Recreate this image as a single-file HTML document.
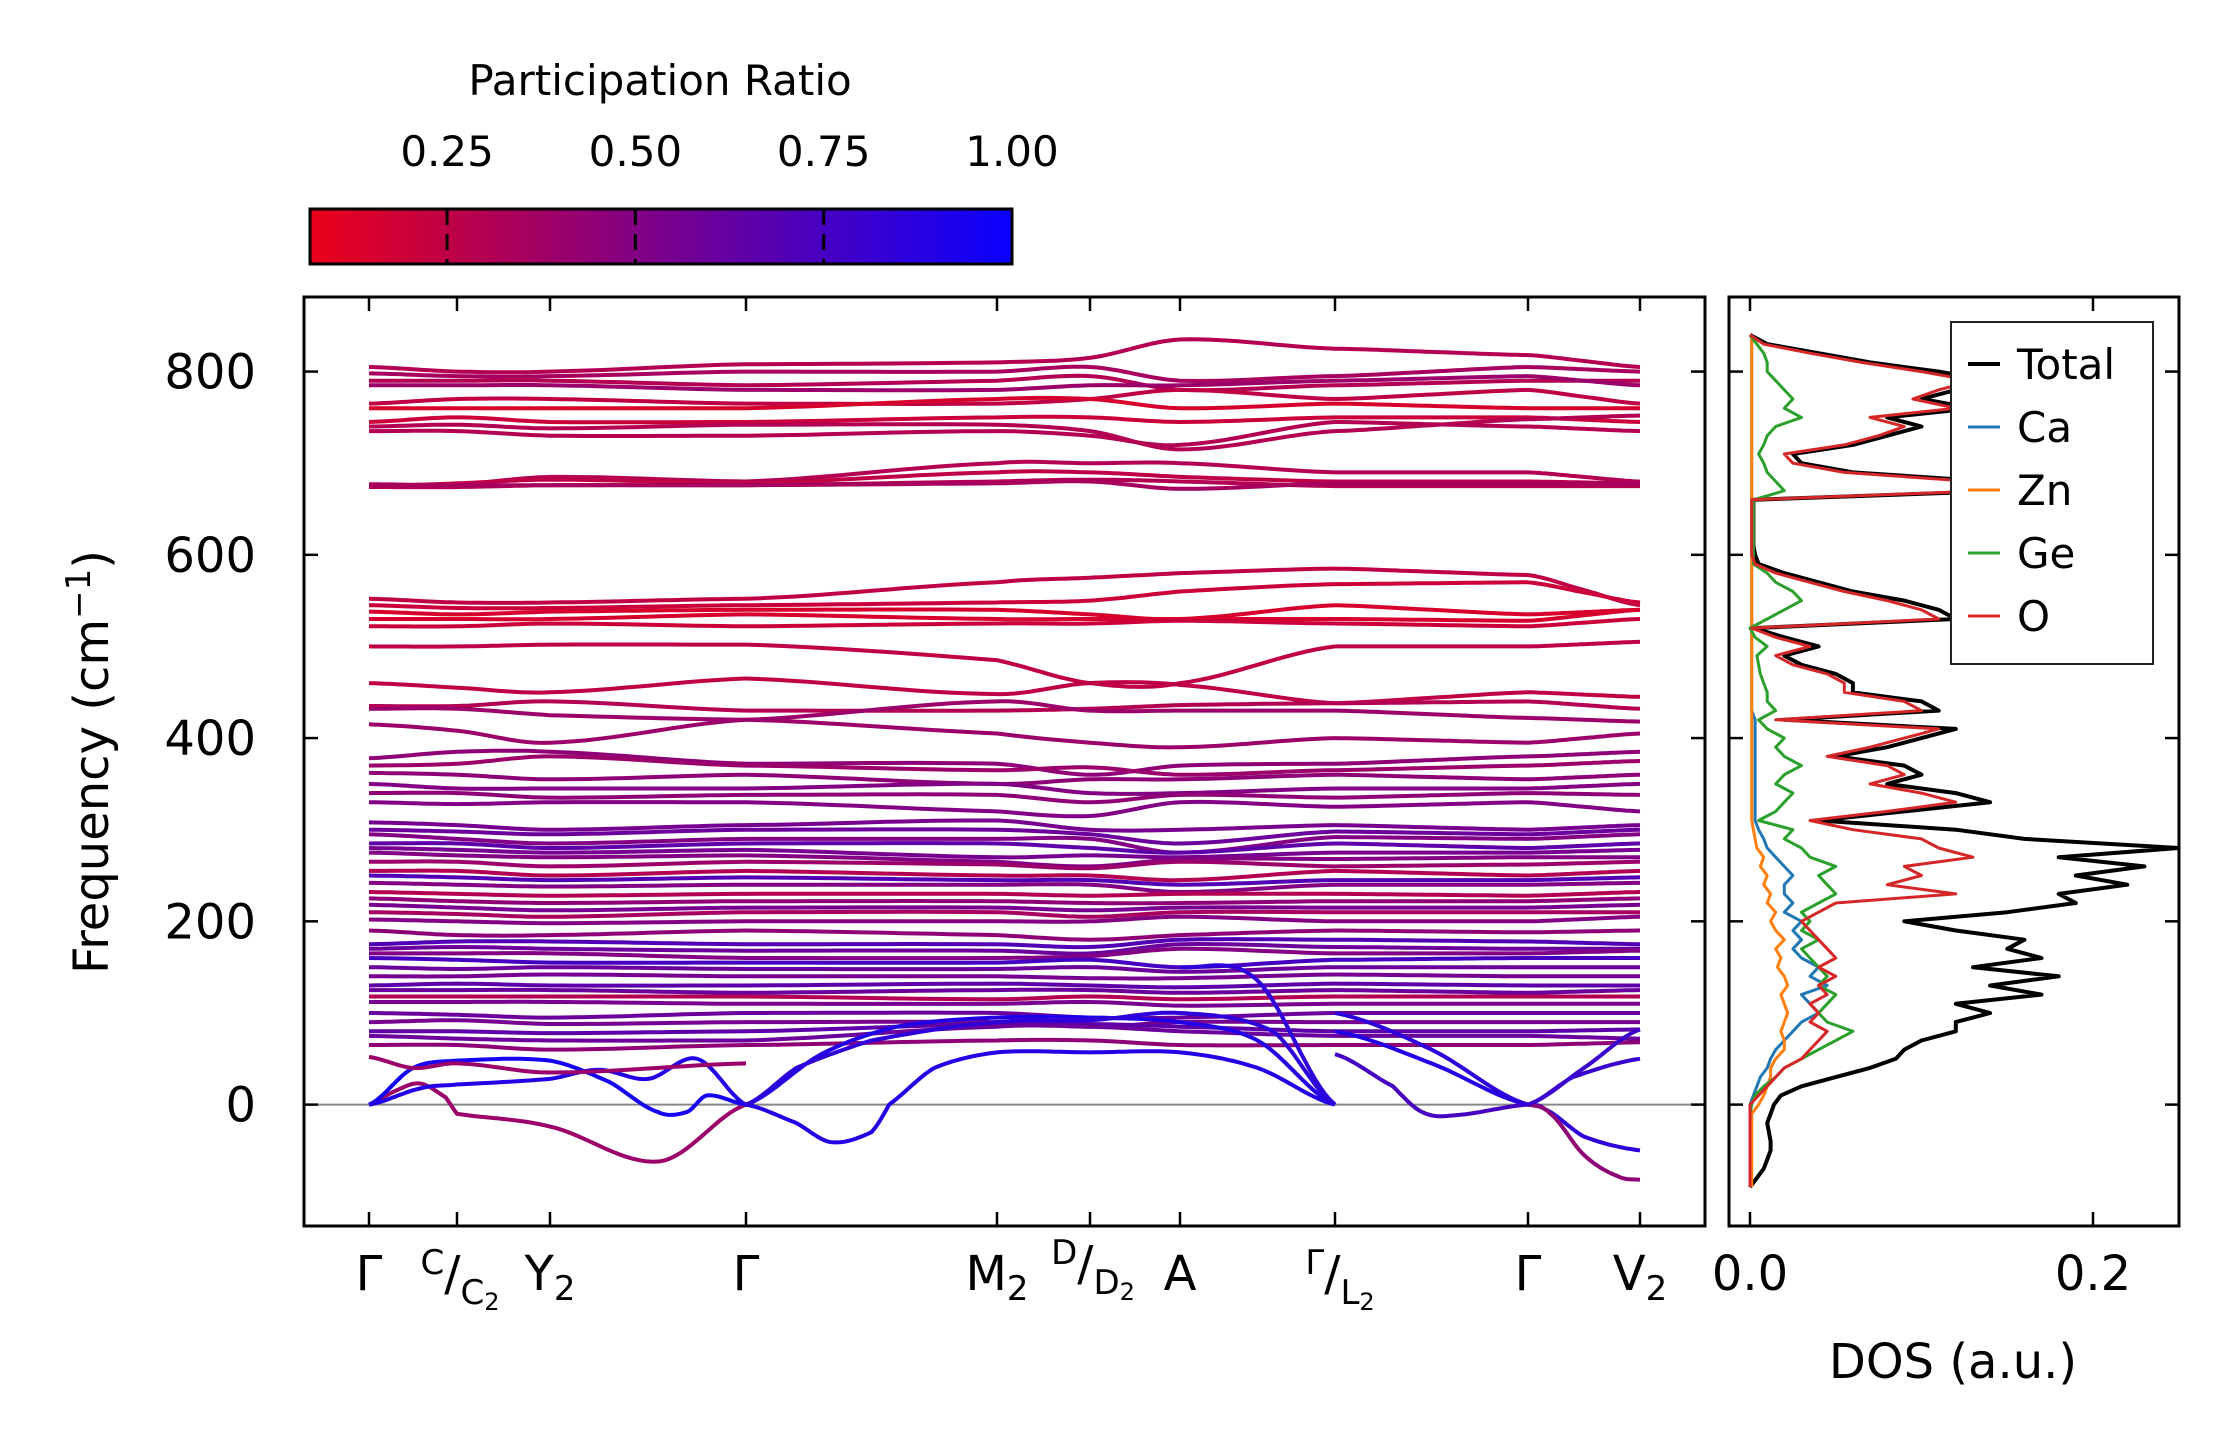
<!DOCTYPE html>
<html><head><meta charset="utf-8"><style>
html,body{margin:0;padding:0;background:#fff;}
svg{display:block;font-family:"DejaVu Sans","Liberation Sans",sans-serif;}
</style></head><body>
<svg id="fig" width="2222" height="1455" viewBox="0 0 2222 1455" xmlns="http://www.w3.org/2000/svg">
<defs>
<linearGradient id="cbg" x1="0" x2="1" y1="0" y2="0">
<stop offset="0" stop-color="rgb(235,0,25)"/><stop offset="1" stop-color="rgb(10,0,255)"/>
</linearGradient>
<clipPath id="bandClip"><rect x="304" y="297" width="1401" height="929"/></clipPath>
<clipPath id="dosClip"><rect x="1729" y="297" width="450" height="929"/></clipPath>
</defs>
<g id="colorbar">
<text x="660" y="95" font-size="42" text-anchor="middle">Participation Ratio</text>
<rect x="310" y="209" width="702" height="55" fill="url(#cbg)" stroke="#000" stroke-width="3"/>
<g id="cbticks"></g>
</g>
<g id="band">
<line x1="304" x2="1705" y1="1104.6" y2="1104.6" stroke="#888" stroke-width="2"/>
<g id="bandLines" clip-path="url(#bandClip)"></g>
<rect x="304" y="297" width="1401" height="929" fill="none" stroke="#000" stroke-width="3"/>
<g id="bandTicks"></g>
<text transform="translate(108,762) rotate(-90)" font-size="48" text-anchor="middle">Frequency (cm<tspan dy="-18" font-size="34">−1</tspan><tspan dy="18">)</tspan></text>
</g>
<g id="dos">
<g id="dosLines" clip-path="url(#dosClip)"></g>
<rect x="1729" y="297" width="450" height="929" fill="none" stroke="#000" stroke-width="3"/>
<g id="dosTicks"></g>
<text x="1953" y="1378" font-size="48" text-anchor="middle">DOS (a.u.)</text>
<g id="legend">
<rect x="1951" y="322" width="202" height="342" fill="#fff" stroke="#222" stroke-width="2"/>
</g>
</g>
</svg>
<script>
const NS="http://www.w3.org/2000/svg";
// ---- data ----
const kLabels=["Γ","C/C2","Y2","Γ","M2","D/D2","A","Γ/L2","Γ","V2"];
const yTicks=[0,200,400,600,800];
const cbTicks=[0.25,0.50,0.75,1.00];
const cbTickLabels=["0.25","0.50","0.75","1.00"];
const dosTicks=[0,0.2];
const dosTickLabels=["0.0","0.2"];
const bandFreqs=[
[805,800,800,808,810,815,835,825,818,805],[798,795,795,800,800,805,790,795,805,800],
[790,790,790,785,790,795,780,785,790,790],[785,785,785,780,780,785,785,790,795,785],
[765,770,770,765,765,770,780,770,780,765],[760,760,760,760,770,770,760,765,760,760],
[745,750,745,745,750,750,745,750,750,745],[735,735,730,730,735,730,720,745,740,735],
[740,742,738,742,742,735,715,735,748,752],[677,677,685,680,700,700,700,690,690,680],
[675,678,682,678,690,690,685,680,680,678],[674,674,676,676,680,682,680,675,675,675],
[676,676,676,676,678,680,672,678,678,678],[552,548,548,552,570,575,580,585,578,545],
[545,542,542,545,548,550,560,568,570,548],[538,535,538,540,540,535,530,545,535,540],
[530,530,530,535,530,530,530,530,528,540],[522,522,525,522,525,525,528,525,522,530],
[500,500,502,502,485,460,460,500,500,505],[460,455,450,465,448,460,458,438,450,445],
[435,435,440,430,430,432,436,438,440,432],[432,432,425,420,440,430,430,430,422,418],
[415,408,395,420,405,395,390,400,395,405],[378,385,385,372,372,360,370,372,380,385],
[370,372,380,370,365,368,360,365,370,375],[362,360,355,360,350,355,355,360,355,360],
[350,345,345,345,350,340,340,345,345,350],[340,340,335,338,338,330,338,335,340,338],
[330,328,330,330,320,315,330,325,330,320],[308,305,300,305,310,300,300,305,300,305],
[300,298,295,300,300,295,285,298,295,300],[295,290,285,290,290,290,275,292,290,295],
[285,285,280,285,285,280,275,285,280,285],[280,278,275,278,270,272,270,275,275,278],
[275,272,270,272,265,260,268,268,270,270],[265,265,260,265,262,258,265,260,262,265],
[255,255,250,255,250,250,245,255,250,255],[250,248,245,248,245,245,240,245,245,248],
[242,240,238,240,240,240,232,240,240,242],[232,230,228,230,230,228,230,230,228,232],
[225,222,220,222,222,220,220,222,222,225],[218,215,212,215,215,212,215,215,215,218],
[210,208,205,210,210,205,210,210,210,210],[202,200,198,200,200,200,205,200,200,205],
[190,185,185,190,185,180,185,190,188,190],[175,178,178,175,175,172,180,180,178,175],
[170,172,170,168,168,165,175,172,170,170],[165,165,165,160,160,162,170,165,165,168],
[160,158,155,155,155,158,150,158,160,160],[150,148,150,148,148,150,145,150,150,150],
[140,140,142,140,140,138,138,142,140,140],[130,132,130,130,132,130,128,132,130,130],
[125,125,125,122,125,125,122,125,122,125],[118,118,118,118,115,118,115,118,118,118],
[112,112,112,110,110,112,108,110,110,110],[100,98,95,100,100,95,95,100,100,100],
[90,92,88,90,90,85,90,90,90,90],[80,80,78,80,88,88,85,80,80,82],
[75,72,70,70,85,85,80,75,75,72],[65,65,60,65,70,70,65,65,65,68]];
const bandPR=[0.3,0.35,0.3,0.4,0.25,0.15,0.2,0.3,0.3,0.3,0.25,0.3,0.35,0.25,0.2,0.15,0.15,0.2,0.25,0.25,
0.3,0.4,0.4,0.45,0.4,0.45,0.5,0.45,0.5,0.55,0.6,0.5,0.65,0.55,0.5,0.4,0.3,0.7,0.5,0.3,
0.45,0.55,0.35,0.5,0.45,0.7,0.6,0.5,0.75,0.6,0.55,0.65,0.6,0.3,0.55,0.6,0.55,0.65,0.6,0.45];
// special low-frequency branches: [k, freq] pairs (k in high-symmetry index units)
const acK=[
[0,0.3,0.58,0.87,1,2,2.56,3],[0,0.5,1,2,2.3,2.55,2.7,2.8,3],[0,0.6,1,2,2.25,2.5,2.75,3],
[3,3.2,3.34,3.5,3.57,3.75,4,5,6,6.5,7],[3,3.3,3.6,4,5,6,6.5,7],[3,3.2,3.5,4,5,6,6.6,7],[6,6.49,7],
[7,7.3,7.45,7.6,8],[7,7.5,8],[7,7.5,8],
[8,8.15,8.5,9],[8,8.2,8.5,8.8,9],[8,8.5,9],[8,8.4,9],[0,0.5,1,2,3]];
const acF=[
[0,15,23,8,-10,-24,-62,0],[0,40,48,48,25,-8,-8,10,0],[0,18,22,28,38,28,50,0],
[0,-20,-41,-30,0,40,57,57,57,40,0],[0,55,85,95,95,90,70,0],[0,40,70,90,92,100,80,0],[150,137,0],
[55,20,-8,-12,0],[80,45,0],[100,60,0],
[0,-5,-35,-50],[0,-10,-55,-78,-82],[0,40,82],[0,30,50],[52,40,45,35,45]];
const acPR=[0.4,0.95,0.9,0.9,0.9,0.85,0.85,0.75,0.9,0.85,0.85,0.45,0.8,0.8,0.4];
const dosFreqStart=-90, dosFreqStep=10;
const dosTotal=[0,.004,.008,.01,.012,.012,.011,.01,.012,.014,
.018,.03,.05,.07,.085,.09,.1,.12,.12,.14,
.12,.17,.14,.18,.13,.17,.15,.16,.12,.09,
.15,.19,.18,.22,.19,.23,.18,.25,.16,.12,
.04,.09,.14,.12,.08,.1,.09,.05,.08,.1,
.12,.02,.11,.1,.06,.06,.05,.03,.02,.04,
.02,.002,.12,.11,.09,.06,.04,.02,.005,.003,
.002,.002,.002,.002,.002,.002,.15,.14,.06,.03,
.025,.06,.08,.1,.08,.13,.1,.12,.14,.11,
.07,.04,.01,0];
const dosO=[0,0,0,0,0,0,0,0,0,0,
.005,.01,.015,.02,.03,.035,.04,.045,.035,.04,
.035,.045,.04,.05,.04,.05,.045,.04,.035,.03,
.04,.05,.12,.08,.1,.09,.13,.11,.1,.06,
.035,.08,.12,.1,.07,.09,.08,.045,.07,.09,
.11,.015,.1,.09,.055,.055,.045,.025,.015,.035,
.015,.001,.11,.1,.08,.055,.035,.015,.003,.001,
.001,.001,.001,.001,.001,.001,.14,.13,.055,.025,
.02,.055,.075,.09,.07,.12,.095,.11,.13,.1,
.065,.035,.008,0];
const dosGe=[0,0,0,0,0,0,0,0,0,.001,
.003,.008,.015,.02,.03,.04,.05,.06,.045,.04,
.045,.05,.04,.045,.04,.035,.03,.04,.03,.035,
.03,.04,.05,.045,.04,.05,.035,.03,.02,.025,
.005,.015,.02,.025,.015,.02,.03,.02,.015,.02,
.01,.005,.015,.01,.01,.008,.006,.005,.004,.01,
.003,0,.01,.02,.03,.025,.015,.01,.002,.002,
.002,.002,.002,.002,.002,.002,.02,.015,.01,.008,
.005,.008,.01,.015,.03,.02,.025,.02,.015,.01,
.01,.008,.004,0];
const dosCa=[0,0,0,0,0,0,0,0,0,0,
.002,.004,.006,.01,.012,.015,.02,.025,.03,.04,
.035,.03,.045,.035,.04,.03,.025,.03,.025,.03,
.02,.025,.02,.02,.025,.02,.015,.01,.008,.005,
.003,.003,.003,.003,.003,.003,.003,.003,.003,.003,
.003,.003,.001,.001,.001,.001,.001,.001,.001,.001,
.001,.001,.001,.001,.001,.001,.001,.001,.001,.001,
.001,.001,.001,.001,.001,.001,.001,.001,.001,.001,
.001,.001,.001,.001,.001,.001,.001,.001,.001,.001,
.001,.001,.001,.001];
const dosZn=[.001,.001,.001,.001,.001,.001,.001,.001,.001,.005,
.008,.01,.012,.012,.015,.02,.02,.018,.02,.022,
.02,.018,.022,.02,.016,.018,.015,.02,.015,.012,
.015,.01,.012,.008,.01,.006,.008,.004,.003,.002,
.001,.001,.001,.001,.001,.001,.001,.001,.001,.001,
.001,.001,.001,.001,.001,.001,.001,.001,.001,.001,
.001,.001,.001,.001,.001,.001,.001,.001,.001,.001,
.001,.001,.001,.001,.001,.001,.001,.001,.001,.001,
.001,.001,.001,.001,.001,.001,.001,.001,.001,.001,
.001,.001,.001,.001];
const seriesNames=["Total","Ca","Zn","Ge","O"];
const seriesColors=["#000000","#1f77b4","#ff7f0e","#2ca02c","#d62728"];
const seriesData=[dosTotal,dosCa,dosZn,dosGe,dosO];

// ---- scales ----
const tickX=[369,457,550,746,997,1090,1180,1335,1528,1640];
const Y0=1104.6, YS=0.9163;
function yOf(f){return Y0-f*YS;}
function xOfK(k){const i=Math.min(Math.floor(k),8);return tickX[i]+(k-i)*(tickX[i+1]-tickX[i]);}
function xDos(v){return 1750+v*1715;}
function prColor(p){const u=Math.max(0,Math.min(1,(p-0.068)/(1-0.068)));
 return `rgb(${Math.round(235*(1-u)+10*u)},0,${Math.round(25*(1-u)+255*u)})`;}
function mk(tag,attrs,parent){const e=document.createElementNS(NS,tag);for(const a in attrs)e.setAttribute(a,attrs[a]);parent.appendChild(e);return e;}
function smoothPath(ks,fs){
 let pts=[];
 for(let i=0;i<ks.length-1;i++){
  const k1=ks[i],k2=ks[i+1];
  const f0=fs[Math.max(0,i-1)],f1=fs[i],f2=fs[i+1],f3=fs[Math.min(fs.length-1,i+2)];
  const x1=xOfK(k1),x2=xOfK(k2);
  for(let s=0;s<=16;s++){const t=s/16,t2=t*t,t3=t2*t;
   const cr=(a,b,c,d)=>0.5*((2*b)+(-a+c)*t+(2*a-5*b+4*c-d)*t2+(-a+3*b-3*c+d)*t3);
   const x=x1+(x2-x1)*t; const f=cr(f0,f1,f2,f3);
   pts.push(x.toFixed(1)+","+yOf(f).toFixed(1));}
 }
 return "M"+pts.join("L");
}
// ---- band lines ----
const bl=document.getElementById("bandLines");
const pieces=[[0,1,2,3],[3,4,5,6,7],[7,8],[8,9]];
bandFreqs.forEach((b,bi)=>{
 pieces.forEach(pc=>{
  let ks=pc.slice(), fs=pc.map(i=>b[i]);
  if(pc.length===2){ks=[pc[0],pc[0]+0.5,pc[1]];fs=[fs[0],(fs[0]+fs[1])/2,fs[1]];}
  const p=mk("path",{d:smoothPath(ks,fs),fill:"none",stroke:prColor(bandPR[bi]),"stroke-width":"4"},bl);
  
  
 });
});
acK.forEach((ks,i)=>{
 const p=mk("path",{d:smoothPath(ks,acF[i]),fill:"none",stroke:prColor(acPR[i]),"stroke-width":"4"},bl);
 
 
});
// ---- band ticks ----
const bt=document.getElementById("bandTicks");
tickX.forEach((x,i)=>{
 mk("line",{x1:x,x2:x,y1:1226,y2:1212,stroke:"#000","stroke-width":"2.5"},bt);
 mk("line",{x1:x,x2:x,y1:297,y2:311,stroke:"#000","stroke-width":"2.5"},bt);
});
yTicks.forEach(v=>{
 const y=yOf(v);
 mk("line",{x1:304,x2:318,y1:y,y2:y,stroke:"#000","stroke-width":"2.5"},bt);
 mk("line",{x1:1705,x2:1691,y1:y,y2:y,stroke:"#000","stroke-width":"2.5"},bt);
 const t=mk("text",{x:256,y:y+17,"font-size":"48","text-anchor":"end"},bt);
 t.textContent=String(v);
 
 
});
const labY=1290;
function kl(x,parts){
 const t=mk("text",{x:x,y:labY,"font-size":"48","text-anchor":"middle"},bt);
 
 
 parts.forEach(p=>{const s=mk("tspan",{},t);if(p[1])s.setAttribute("font-size",p[1]);if(p[2])s.setAttribute("dy",p[2]);s.textContent=p[0];});
}
kl(369,[["Γ"]]);
kl(460,[["C","34","-16"],["/","48","16"],["C","34","14"],["2","24","6"]]);
kl(550,[["Y"],["2","34","10"]]);
kl(746,[["Γ"]]);
kl(997,[["M"],["2","34","10"]]);
kl(1093,[["D","34","-26"],["/","48","16"],["D","34","14"],["2","24","6"]]);
kl(1180,[["A"]]);
kl(1340,[["Γ","34","-16"],["/","48","16"],["L","34","14"],["2","24","6"]]);
kl(1528,[["Γ"]]);
kl(1640,[["V"],["2","34","10"]]);
// ---- colorbar ticks ----
const cbt=document.getElementById("cbticks");
cbTicks.forEach((v,i)=>{
 const x=310+(v-0.068)/(1-0.068)*702;
 if(v<1) mk("line",{x1:x,x2:x,y1:209,y2:264,stroke:"#000","stroke-width":"3","stroke-dasharray":"16 9"},cbt);
 const t=mk("text",{x:x,y:166,"font-size":"42","text-anchor":"middle"},cbt);
 t.textContent=cbTickLabels[i];
 
 
});
// ---- DOS ----
const dl=document.getElementById("dosLines");
seriesData.forEach((arr,si)=>{
 const pts=arr.map((v,i)=>xDos(v).toFixed(1)+","+yOf(dosFreqStart+i*dosFreqStep).toFixed(1));
 const p=mk("polyline",{points:pts.join(" "),fill:"none",stroke:seriesColors[si],"stroke-width":si===0?"4":"3","stroke-linejoin":"round"},dl);
 
 
});
const dt=document.getElementById("dosTicks");
yTicks.forEach(v=>{const y=yOf(v);
 mk("line",{x1:1729,x2:1743,y1:y,y2:y,stroke:"#000","stroke-width":"2.5"},dt);
 mk("line",{x1:2179,x2:2165,y1:y,y2:y,stroke:"#000","stroke-width":"2.5"},dt);});
dosTicks.forEach((v,i)=>{const x=xDos(v);
 mk("line",{x1:x,x2:x,y1:1226,y2:1212,stroke:"#000","stroke-width":"2.5"},dt);
 mk("line",{x1:x,x2:x,y1:297,y2:311,stroke:"#000","stroke-width":"2.5"},dt);
 const t=mk("text",{x:x,y:1290,"font-size":"48","text-anchor":"middle"},dt);
 t.textContent=dosTickLabels[i];
 
 
});
// ---- legend ----
const lg=document.getElementById("legend");
seriesNames.forEach((n,i)=>{
 const y=364+i*63;
 const l=mk("line",{x1:1968,x2:2000,y1:y,y2:y,stroke:seriesColors[i],"stroke-width":i===0?"4":"3"},lg);
 
 
 const t=mk("text",{x:2017,y:y+15,"font-size":"42"},lg);
 t.textContent=n;
 
 
});
</script>
</body></html>
